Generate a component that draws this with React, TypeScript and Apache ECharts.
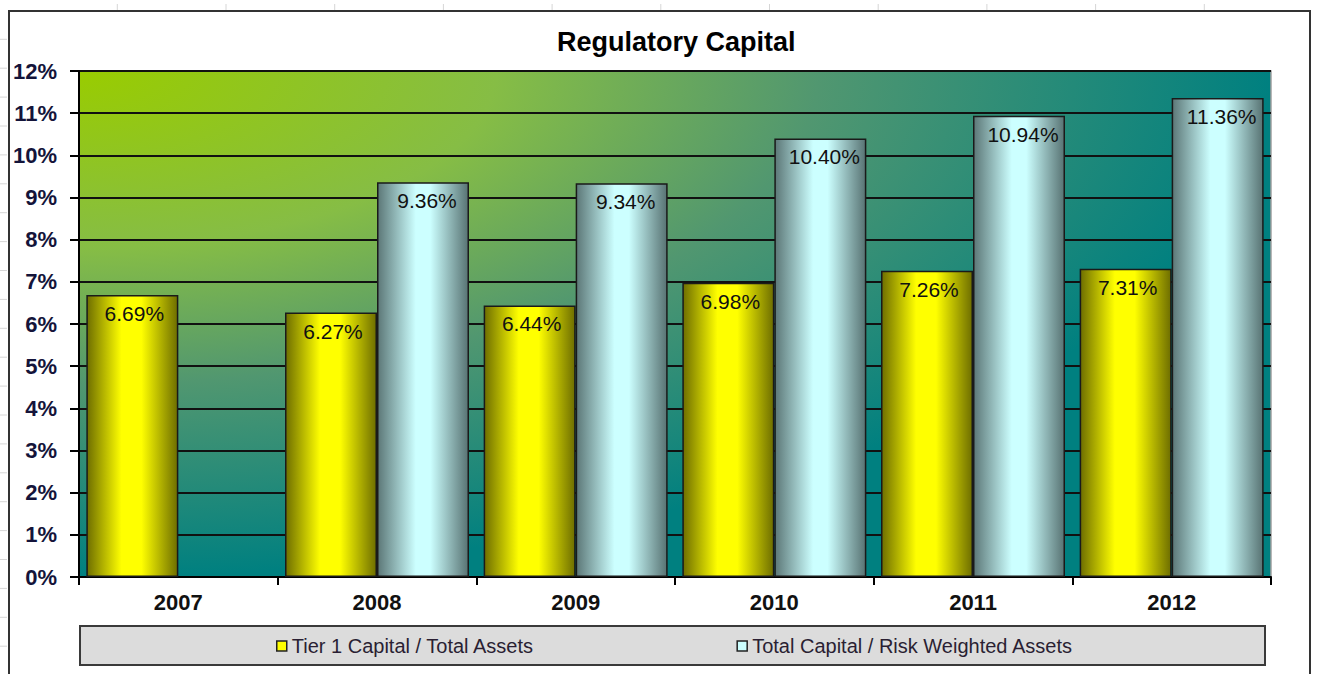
import React, { useEffect, useRef } from "react";
import * as echarts from "echarts";

const categories = ["2007", "2008", "2009", "2010", "2011", "2012"];
const tier1Values = [6.69, 6.27, 6.44, 6.98, 7.26, 7.31];
const totalCapitalValues: (number | null)[] = [null, 9.36, 9.34, 10.4, 10.94, 11.36];
const seriesNames = ["Tier 1 Capital / Total Assets", "Total Capital / Risk Weighted Assets"];
const yMin = 0;
const yMax = 12;
const yInterval = 1;

const FONT = "'Liberation Sans', Arial, sans-serif";

export default function App() {
  const ref = useRef<HTMLDivElement>(null);
  useEffect(() => {
    if (!ref.current) return;
    const chart = echarts.init(ref.current, undefined, { renderer: "svg" });

    const sheetMarks: any[] = [];
    for (let k = 0; k < 11; k++) {
      const x = 117.3 + 108.7 * k;
      sheetMarks.push({
        type: "line",
        shape: { x1: x, y1: 4, x2: x, y2: 10 },
        style: { stroke: "#d6d6d6", lineWidth: 1 },
        silent: true,
      });
    }
    for (let k = 0; k < 23; k++) {
      const y = 39.3 + 28.9 * k;
      sheetMarks.push({
        type: "line",
        shape: { x1: 0, y1: y, x2: 7, y2: y },
        style: { stroke: "#d6d6d6", lineWidth: 1 },
        silent: true,
      });
    }

    const yellowGrad = new echarts.graphic.LinearGradient(0, 0, 1, 0, [
      { offset: 0, color: "#6e6e00" },
      { offset: 0.38, color: "#ffff00" },
      { offset: 0.6, color: "#ffff00" },
      { offset: 1, color: "#6e6e00" },
    ]);
    const cyanGrad = new echarts.graphic.LinearGradient(0, 0, 1, 0, [
      { offset: 0, color: "#5c7777" },
      { offset: 0.42, color: "#ccffff" },
      { offset: 0.58, color: "#ccffff" },
      { offset: 1, color: "#587373" },
    ]);
    const bgGrad = new echarts.graphic.RadialGradient(0, 0, 1, [
      { offset: 0, color: "#99cc00" },
      { offset: 0.35, color: "#86bd45" },
      { offset: 0.62, color: "#519770" },
      { offset: 1, color: "#008080" },
    ]);

    chart.setOption({
      animation: false,
      backgroundColor: "#ffffff",
      title: {
        text: "Regulatory Capital",
        left: 552,
        top: 23,
        textStyle: { fontFamily: FONT, fontSize: 27, fontWeight: "bold", color: "#000000" },
      },
      grid: {
        left: 79,
        top: 71,
        right: 46,
        bottom: 97,
        show: true,
        backgroundColor: bgGrad,
        borderColor: "#a0a0a0",
        borderWidth: 1.5,
      },
      legend: {
        left: 276,
        top: 636,
        padding: 0,
        itemGap: 202,
        itemWidth: 10,
        itemHeight: 10,
        icon: "rect",
        textStyle: { fontFamily: FONT, fontSize: 20, color: "#2a1f33" },
        data: [
          { name: seriesNames[0], itemStyle: { color: "#ffff00", borderColor: "#222", borderWidth: 1.5 } },
          { name: seriesNames[1], itemStyle: { color: "#ccffff", borderColor: "#222", borderWidth: 1.5 } },
        ],
      },
      xAxis: {
        type: "category",
        data: categories,
        axisLine: { lineStyle: { color: "#000", width: 2 } },
        axisTick: { show: true, length: 8, lineStyle: { color: "#000", width: 2 } },
        axisLabel: { fontFamily: FONT, fontSize: 22, fontWeight: "bold", color: "#111", margin: 14 },
      },
      yAxis: {
        type: "value",
        min: yMin,
        max: yMax,
        interval: yInterval,
        axisLine: { show: true, lineStyle: { color: "#000", width: 2 } },
        axisTick: { show: true, length: 9, lineStyle: { color: "#000", width: 2 } },
        axisLabel: {
          fontFamily: FONT,
          fontSize: 22,
          fontWeight: "bold",
          color: "#14143a",
          margin: 22,
          formatter: "{value}%",
        },
        splitLine: { show: true, lineStyle: { color: "#111", width: 2 } },
      },
      series: [
        {
          name: seriesNames[0],
          type: "bar",
          data: tier1Values,
          barWidth: 92,
          barGap: "0%",
          itemStyle: { color: yellowGrad, borderColor: "#1a1a1a", borderWidth: 1.5 },
          label: {
            show: true,
            position: "insideTop",
            distance: 8,
            offset: [2, 0],
            fontFamily: FONT,
            fontSize: 21,
            color: "#111",
            formatter: (p: any) => Number(p.value).toFixed(2) + "%",
          },
        },
        {
          name: seriesNames[1],
          type: "bar",
          data: totalCapitalValues,
          barWidth: 92,
          barGap: "0%",
          itemStyle: { color: cyanGrad, borderColor: "#1a1a1a", borderWidth: 1.5 },
          label: {
            show: true,
            position: "insideTop",
            distance: 8,
            offset: [4, 0],
            fontFamily: FONT,
            fontSize: 21,
            color: "#111",
            formatter: (p: any) => Number(p.value).toFixed(2) + "%",
          },
        },
      ],
      graphic: [
        ...sheetMarks,
        {
          type: "rect",
          z: -10,
          silent: true,
          shape: { x: 9, y: 11, width: 1301, height: 700 },
          style: { fill: "#ffffff", stroke: "#333333", lineWidth: 2 },
        },
        {
          type: "rect",
          z: -5,
          silent: true,
          shape: { x: 80, y: 626, width: 1185, height: 39 },
          style: { fill: "#dcdcdc", stroke: "#3a3a3a", lineWidth: 2 },
        },
      ],
    });
    return () => chart.dispose();
  }, []);
  return (
    <div
      ref={ref}
      style={{ position: "fixed", left: 0, top: 0, width: 1317, height: 674 }}
    />
  );
}
